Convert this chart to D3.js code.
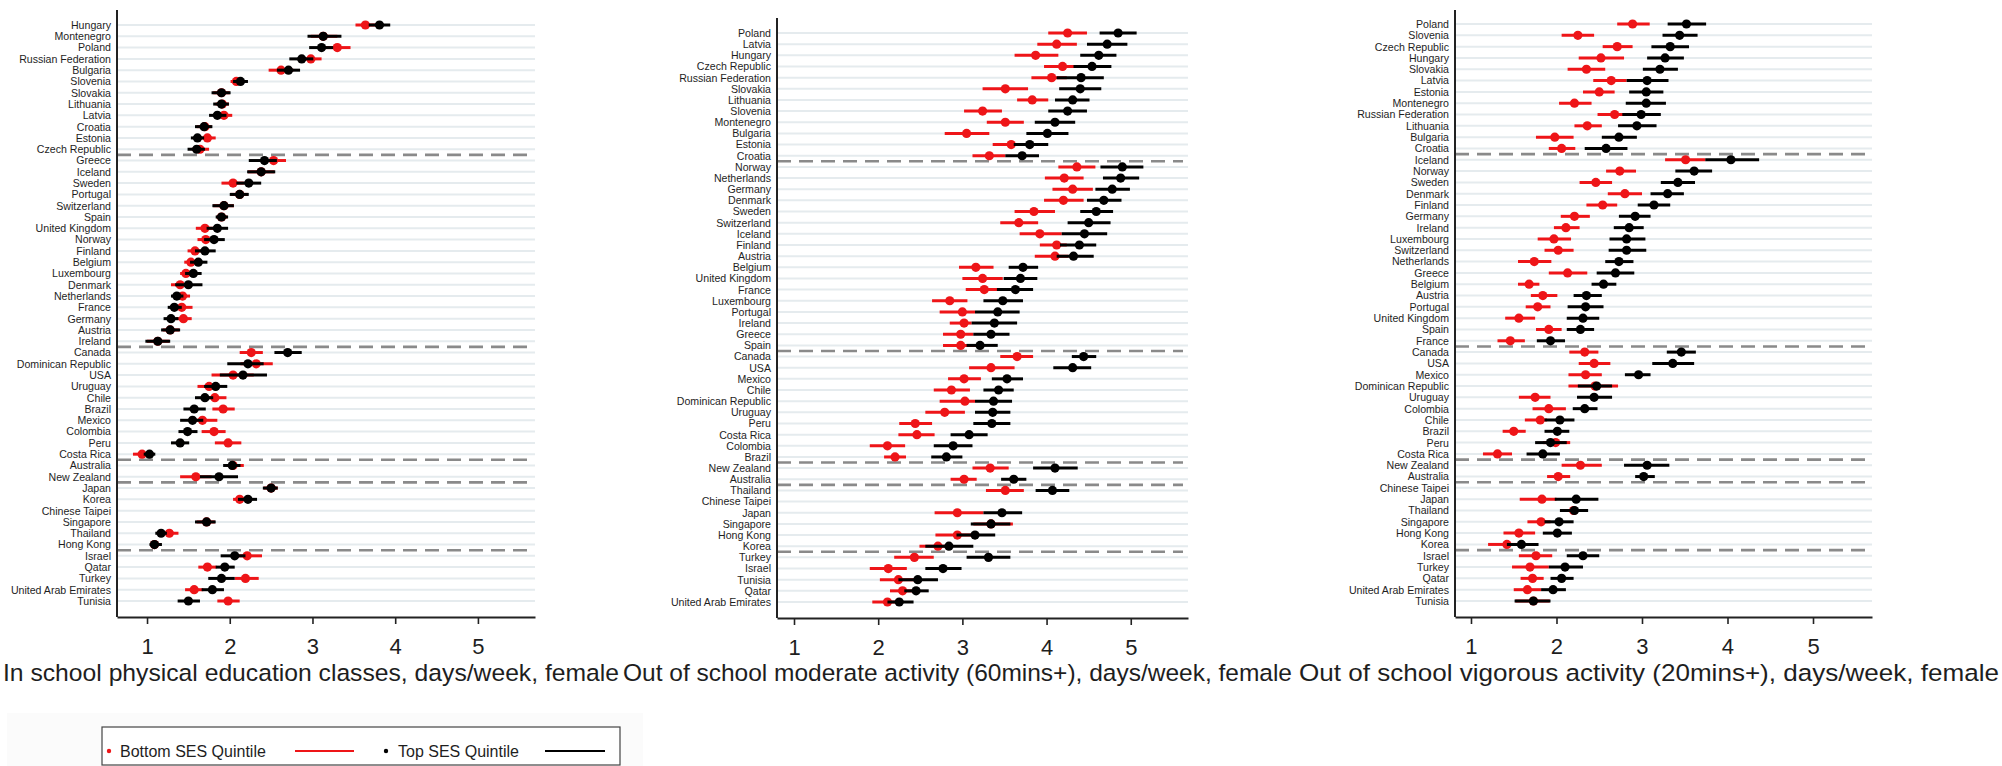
<!DOCTYPE html>
<html>
<head>
<meta charset="utf-8">
<script src="https://cdn.jsdelivr.net/npm/d3@7"></script>
<style>
  html, body { margin: 0; padding: 0; background: #fff; }
  svg { display: block; font-family: "Liberation Sans", Arial, sans-serif; }
</style>
</head>
<body>
<svg id="chart" width="2002" height="766"></svg>
<script>
// ---------- Data ----------
// Country groups (in display order) are separated by dashed lines.
const groupSizes = [12, 17, 10, 2, 6, 5];
const xTicks = [1, 2, 3, 4, 5];
const titles = [
  "In school physical education classes, days/week, female",
  "Out of school moderate activity (60mins+), days/week, female",
  "Out of school vigorous activity (20mins+), days/week, female"
];
const legendLabels = ["Bottom SES Quintile", "Top SES Quintile"];

// Panel 1: physical education classes
const peCountries = ["Hungary","Montenegro","Poland","Russian Federation","Bulgaria","Slovenia","Slovakia","Lithuania","Latvia","Croatia","Estonia","Czech Republic",
  "Greece","Iceland","Sweden","Portugal","Switzerland","Spain","United Kingdom","Norway","Finland","Belgium","Luxembourg","Denmark","Netherlands","France","Germany","Austria","Ireland",
  "Canada","Dominican Republic","USA","Uruguay","Chile","Brazil","Mexico","Colombia","Peru","Costa Rica",
  "Australia","New Zealand",
  "Japan","Korea","Chinese Taipei","Singapore","Thailand","Hong Kong",
  "Israel","Qatar","Turkey","United Arab Emirates","Tunisia"];
const peBottom   = [3.64,3.13,3.30,2.98,2.62,2.08,1.90,1.91,1.93,1.70,1.73,1.64, 2.53,2.38,2.04,2.12,1.93,1.90,1.70,1.71,1.58,1.53,1.47,1.40,1.43,1.42,1.44,1.28,1.13, 2.26,2.32,2.04,1.75,1.82,1.92,1.67,1.81,1.98,0.94, 2.04,1.59, 2.50,2.12,null,1.72,1.27,1.09, 2.21,1.73,2.19,1.57,1.98];
const peBottomLo = [3.52,2.98,3.15,2.85,2.47,2.01,1.80,1.83,1.82,1.60,1.63,1.54, 2.39,2.22,1.90,2.01,1.80,1.84,1.59,1.61,1.49,1.45,1.40,1.29,1.34,1.32,1.35,1.19,1.00, 2.12,2.13,1.78,1.61,1.69,1.79,1.54,1.66,1.82,0.83, 1.96,1.40, 2.41,2.04,null,1.60,1.20,1.04, 2.08,1.62,2.06,1.46,1.85];
const peBottomHi = [3.78,3.30,3.46,3.11,2.77,2.16,2.00,1.99,2.03,1.78,1.83,1.75, 2.68,2.54,2.17,2.22,2.05,1.97,1.80,1.82,1.66,1.62,1.54,1.50,1.52,1.55,1.54,1.39,1.27, 2.40,2.52,2.29,1.88,1.96,2.06,1.85,1.95,2.14,1.02, 2.17,1.78, 2.58,2.19,null,1.82,1.38,1.17, 2.39,1.84,2.35,1.68,2.12];
const peTop      = [3.81,3.13,3.11,2.87,2.71,2.13,1.90,1.90,1.85,1.69,1.61,1.60, 2.42,2.38,2.23,2.12,1.93,1.90,1.85,1.81,1.70,1.62,1.56,1.50,1.36,1.33,1.29,1.28,1.13, 2.70,2.22,2.16,1.83,1.70,1.57,1.55,1.49,1.40,1.03, 2.03,1.87, 2.50,2.22,null,1.72,1.17,1.09, 2.06,1.94,1.90,1.79,1.50];
const peTopLo    = [3.68,2.94,2.96,2.72,2.57,2.04,1.78,1.80,1.75,1.58,1.53,1.49, 2.23,2.21,2.08,2.00,1.79,1.83,1.72,1.69,1.58,1.52,1.46,1.34,1.29,1.25,1.20,1.17,0.98, 2.54,1.97,1.88,1.69,1.58,1.44,1.40,1.38,1.29,0.96, 1.92,1.64, 2.40,2.10,null,1.58,1.10,1.03, 1.89,1.83,1.74,1.66,1.37];
const peTopHi    = [3.94,3.35,3.25,3.01,2.85,2.22,2.01,1.99,1.96,1.79,1.69,1.70, 2.57,2.55,2.38,2.23,2.05,1.98,1.98,1.94,1.83,1.73,1.66,1.67,1.44,1.42,1.38,1.40,1.28, 2.87,2.41,2.45,1.97,1.80,1.71,1.68,1.61,1.51,1.10, 2.13,2.10, 2.58,2.33,null,1.83,1.24,1.18, 2.19,2.06,2.06,1.93,1.64];

// Panel 2: moderate activity
const modCountries = ["Poland","Latvia","Hungary","Czech Republic","Russian Federation","Slovakia","Lithuania","Slovenia","Montenegro","Bulgaria","Estonia","Croatia",
  "Norway","Netherlands","Germany","Denmark","Sweden","Switzerland","Iceland","Finland","Austria","Belgium","United Kingdom","France","Luxembourg","Portugal","Ireland","Greece","Spain",
  "Canada","USA","Mexico","Chile","Dominican Republic","Uruguay","Peru","Costa Rica","Colombia","Brazil",
  "New Zealand","Australia",
  "Thailand","Chinese Taipei","Japan","Singapore","Hong Kong","Korea",
  "Turkey","Israel","Tunisia","Qatar","United Arab Emirates"];
const modBottom   = [4.25,4.12,3.87,4.19,4.06,3.51,3.83,3.24,3.51,3.05,3.58,3.32, 4.36,4.21,4.31,4.20,3.85,3.67,3.92,4.12,4.10,3.16,3.24,3.26,2.85,3.00,3.02,2.98,2.98, 3.65,3.34,3.02,2.87,3.03,2.79,2.44,2.46,2.11,2.20, 3.33,3.02, 3.51,null,2.94,3.34,2.94,2.71, 2.43,2.12,2.24,2.29,2.11];
const modBottomLo = [4.02,3.89,3.62,3.97,3.82,3.24,3.65,3.02,3.29,2.79,3.36,3.12, 4.14,3.98,4.07,3.97,3.62,3.45,3.68,3.92,3.86,2.96,3.00,3.04,2.64,2.73,2.85,2.77,2.77, 3.45,3.08,2.83,2.66,2.73,2.56,2.25,2.24,1.90,2.07, 3.12,2.86, 3.28,null,2.67,3.13,2.68,2.49, 2.19,1.90,2.02,2.14,1.93];
const modBottomHi = [4.48,4.36,4.14,4.38,4.24,3.78,4.02,3.47,3.73,3.32,3.76,3.51, 4.58,4.44,4.55,4.44,4.10,3.90,4.18,4.24,4.26,3.37,3.48,3.43,3.06,3.15,3.11,3.13,3.17, 3.84,3.62,3.22,3.09,3.15,3.03,2.64,2.67,2.32,2.33, 3.55,3.17, 3.73,null,3.25,3.60,3.13,2.81, 2.66,2.34,2.44,2.40,2.22];
const modTop      = [4.85,4.72,4.62,4.54,4.41,4.40,4.31,4.25,4.10,4.01,3.80,3.71, 4.90,4.88,4.78,4.68,4.59,4.50,4.45,4.39,4.32,3.72,3.69,3.63,3.48,3.42,3.38,3.34,3.21, 4.44,4.31,3.53,3.43,3.37,3.36,3.35,3.08,2.89,2.81, 4.10,3.61, 4.07,null,3.47,3.34,3.15,2.84, 3.31,2.77,2.47,2.45,2.25];
const modTopLo    = [4.63,4.48,4.40,4.32,4.12,4.15,4.10,4.02,3.86,3.76,3.61,3.51, 4.64,4.67,4.58,4.48,4.40,4.25,4.18,4.16,4.12,3.55,3.49,3.41,3.25,3.15,3.11,3.13,3.05, 4.30,4.08,3.35,3.25,3.15,3.15,3.13,2.86,2.66,2.63, 3.84,3.46, 3.87,null,3.25,3.10,2.93,2.56, 3.05,2.56,2.24,2.31,2.11];
const modTopHi    = [5.07,4.96,4.83,4.77,4.68,4.65,4.51,4.48,4.34,4.26,4.02,3.91, 5.15,5.10,4.99,4.89,4.79,4.76,4.72,4.59,4.56,3.90,3.89,3.84,3.72,3.68,3.65,3.56,3.42, 4.59,4.53,3.72,3.61,3.59,3.57,3.57,3.30,3.12,3.00, 4.37,3.76, 4.27,null,3.71,3.57,3.39,3.13, 3.57,2.99,2.71,2.60,2.42];

// Panel 3: vigorous activity
const vigCountries = ["Poland","Slovenia","Czech Republic","Hungary","Slovakia","Latvia","Estonia","Montenegro","Russian Federation","Lithuania","Bulgaria","Croatia",
  "Iceland","Norway","Sweden","Denmark","Finland","Germany","Ireland","Luxembourg","Switzerland","Netherlands","Greece","Belgium","Austria","Portugal","United Kingdom","Spain","France",
  "Canada","USA","Mexico","Dominican Republic","Uruguay","Colombia","Chile","Brazil","Peru","Costa Rica",
  "New Zealand","Australia",
  "Chinese Taipei","Japan","Thailand","Singapore","Hong Kong","Korea",
  "Israel","Turkey","Qatar","United Arab Emirates","Tunisia"];
const vigBottom   = [2.89,2.25,2.71,2.52,2.35,2.64,2.50,2.21,2.68,2.36,1.98,2.06, 3.51,2.74,2.46,2.80,2.54,2.21,2.11,1.97,2.02,1.74,2.13,1.68,1.84,1.78,1.56,1.91,1.46, 2.33,2.44,2.34,2.45,1.75,1.91,1.81,1.50,1.99,1.31, 2.28,2.02, null,1.83,2.20,1.82,1.56,1.42, 1.76,1.69,1.72,1.66,1.73];
const vigBottomLo = [2.71,2.06,2.54,2.26,2.13,2.43,2.31,2.03,2.48,2.21,1.76,1.91, 3.27,2.58,2.27,2.60,2.35,2.05,1.97,1.78,1.86,1.55,1.91,1.55,1.70,1.64,1.40,1.76,1.31, 2.15,2.26,2.14,2.14,1.56,1.72,1.63,1.37,1.84,1.14, 2.06,1.89, null,1.57,2.06,1.66,1.38,1.20, 1.56,1.48,1.58,1.50,1.52];
const vigBottomHi = [3.09,2.44,2.89,2.79,2.57,2.82,2.68,2.41,2.79,2.53,2.20,2.22, 3.74,2.93,2.65,3.00,2.71,2.39,2.27,2.17,2.20,1.94,2.36,1.80,2.01,1.93,1.75,2.06,1.63, 2.49,2.63,2.53,2.72,1.93,2.11,1.89,1.64,2.16,1.48, 2.53,2.16, null,2.00,2.35,1.93,1.75,1.54, 1.95,1.91,1.85,1.82,1.92];
const vigTop      = [3.52,3.44,3.33,3.27,3.21,3.06,3.05,3.05,2.99,2.94,2.73,2.58, 4.04,3.61,3.42,3.30,3.14,2.92,2.85,2.82,2.82,2.73,2.69,2.55,2.35,2.34,2.31,2.28,1.93, 3.46,3.36,2.96,2.47,2.44,2.33,2.04,2.01,1.93,1.84, 3.06,3.02, null,2.23,2.21,2.03,2.01,1.59, 2.31,2.10,2.06,1.96,1.73];
const vigTopLo    = [3.30,3.24,3.11,3.06,3.01,2.82,2.85,2.81,2.77,2.72,2.53,2.33, 3.74,3.39,3.22,3.10,2.95,2.73,2.67,2.62,2.61,2.57,2.47,2.41,2.20,2.13,2.12,2.12,1.77, 3.29,3.12,2.80,2.25,2.24,2.19,1.86,1.86,1.75,1.65, 2.79,2.92, null,1.98,2.04,1.86,1.84,1.42, 2.12,1.91,1.93,1.82,1.51];
const vigTopHi    = [3.75,3.65,3.55,3.49,3.42,3.31,3.25,3.28,3.22,3.17,2.94,2.83, 4.37,3.82,3.62,3.49,3.33,3.10,3.02,3.04,3.05,2.90,2.91,2.70,2.53,2.55,2.50,2.44,2.10, 3.63,3.61,3.10,2.65,2.65,2.48,2.21,2.15,2.12,2.04, 3.32,3.15, null,2.49,2.37,2.20,2.18,1.79, 2.50,2.31,2.20,2.11,1.93];

// ---------- Layout ----------
const W = 2002, H = 766;
const RED = "#ee1518", BLACK = "#000000";
const layout = [
  { left: 117,  right: 535,  xMin: 0.637, xMax: 5.69, axisTop: 10, axisBottom: 617, rowTop: 25, rowBottom: 601, titleX0: 3,    titleX1: 619 },
  { left: 777,  right: 1188, xMin: 0.798, xMax: 5.68, axisTop: 18, axisBottom: 618, rowTop: 33, rowBottom: 602, titleX0: 623,  titleX1: 1292 },
  { left: 1455, right: 1872, xMin: 0.813, xMax: 5.69, axisTop: 10, axisBottom: 617, rowTop: 24, rowBottom: 601, titleX0: 1299, titleX1: 1999 }
];

const panels = [
  { title: titles[0], countries: peCountries,  bEst: peBottom,  bLo: peBottomLo,  bHi: peBottomHi,  tEst: peTop,  tLo: peTopLo,  tHi: peTopHi },
  { title: titles[1], countries: modCountries, bEst: modBottom, bLo: modBottomLo, bHi: modBottomHi, tEst: modTop, tLo: modTopLo, tHi: modTopHi },
  { title: titles[2], countries: vigCountries, bEst: vigBottom, bLo: vigBottomLo, bHi: vigBottomHi, tEst: vigTop, tLo: vigTopLo, tHi: vigTopHi }
];

const svg = d3.select("#chart");
svg.append("rect").attr("width", W).attr("height", H).attr("fill", "#fff");

panels.forEach((P, pi) => {
  const L = layout[pi];
  const g = svg.append("g").attr("class", "panel");
  const x = d3.scaleLinear().domain([L.xMin, L.xMax]).range([L.left, L.right]);
  const y = d3.scalePoint().domain(P.countries).range([L.rowTop, L.rowBottom]);

  // horizontal row gridlines
  g.append("g").selectAll("line").data(P.countries).join("line")
    .attr("x1", L.left).attr("x2", L.right)
    .attr("y1", d => y(d)).attr("y2", d => y(d))
    .attr("stroke", "#e5ebee").attr("stroke-width", 2);

  // dashed separators between country groups
  const seps = [];
  let cum = 0;
  groupSizes.slice(0, -1).forEach(n => {
    cum += n;
    seps.push((y(P.countries[cum - 1]) + y(P.countries[cum])) / 2);
  });
  g.append("g").selectAll("line").data(seps).join("line")
    .attr("x1", L.left).attr("x2", L.right - 5)
    .attr("y1", d => d).attr("y2", d => d)
    .attr("stroke", "#8a8a8a").attr("stroke-width", 2.6)
    .attr("stroke-dasharray", "14,8");

  // rows with estimates
  const rows = P.countries.map((c, i) => ({
    c, bE: P.bEst[i], bL: P.bLo[i], bH: P.bHi[i], tE: P.tEst[i], tL: P.tLo[i], tH: P.tHi[i]
  }));
  const bRows = rows.filter(r => r.bE != null);
  const tRows = rows.filter(r => r.tE != null);

  // bottom quintile: point then interval
  g.append("g").selectAll("circle").data(bRows).join("circle")
    .attr("cx", d => x(d.bE)).attr("cy", d => y(d.c)).attr("r", 4.6).attr("fill", RED);
  g.append("g").selectAll("line").data(bRows).join("line")
    .attr("x1", d => x(d.bL)).attr("x2", d => x(d.bH))
    .attr("y1", d => y(d.c)).attr("y2", d => y(d.c))
    .attr("stroke", RED).attr("stroke-width", 3);
  // top quintile: point then interval
  g.append("g").selectAll("circle").data(tRows).join("circle")
    .attr("cx", d => x(d.tE)).attr("cy", d => y(d.c)).attr("r", 4.6).attr("fill", BLACK);
  g.append("g").selectAll("line").data(tRows).join("line")
    .attr("x1", d => x(d.tL)).attr("x2", d => x(d.tH))
    .attr("y1", d => y(d.c)).attr("y2", d => y(d.c))
    .attr("stroke", BLACK).attr("stroke-width", 3);

  // country labels
  const yAxis = g.append("g").attr("transform", `translate(${L.left},0)`)
    .call(d3.axisLeft(y).tickSize(0).tickPadding(6));
  yAxis.select(".domain").remove();
  yAxis.selectAll("text").attr("font-size", 10.6).attr("fill", "#1e1e1e")
    .attr("font-family", '"Liberation Sans", Arial, sans-serif');

  // left axis line
  g.append("line").attr("x1", L.left).attr("x2", L.left)
    .attr("y1", L.axisTop).attr("y2", L.axisBottom)
    .attr("stroke", "#222").attr("stroke-width", 2);

  // x axis
  const xAxis = g.append("g").attr("transform", `translate(0,${L.axisBottom})`)
    .call(d3.axisBottom(x).tickValues(xTicks).tickSize(7).tickSizeOuter(0).tickPadding(14).tickFormat(d3.format("d")));
  xAxis.select(".domain").attr("stroke", "#222").attr("stroke-width", 2);
  xAxis.selectAll(".tick line").attr("stroke", "#222").attr("stroke-width", 1.6);
  xAxis.selectAll("text").attr("font-size", 22).attr("fill", "#1e1e1e")
    .attr("font-family", '"Liberation Sans", Arial, sans-serif');

  // panel title
  g.append("text").attr("x", L.titleX0).attr("y", 681)
    .attr("font-size", 24.5).attr("fill", "#1e1e1e")
    .attr("textLength", L.titleX1 - L.titleX0).attr("lengthAdjust", "spacingAndGlyphs")
    .text(P.title);
});

// ---------- Legend ----------
const lg = svg.append("g").attr("class", "legend");
lg.append("rect").attr("x", 7).attr("y", 713).attr("width", 636).attr("height", 60).attr("fill", "#fbfbfb");
lg.append("rect").attr("x", 102).attr("y", 727).attr("width", 518).attr("height", 38)
  .attr("fill", "#fff").attr("stroke", "#444").attr("stroke-width", 1.2);
const legendItems = [
  { label: legendLabels[0], color: RED,   dotX: 109, textX: 120, lineX0: 295, lineX1: 354 },
  { label: legendLabels[1], color: BLACK, dotX: 386, textX: 398, lineX0: 545, lineX1: 605 }
];
legendItems.forEach(it => {
  lg.append("circle").attr("cx", it.dotX).attr("cy", 751).attr("r", 2.2).attr("fill", it.color);
  lg.append("text").attr("x", it.textX).attr("y", 757).attr("font-size", 16).attr("fill", "#1e1e1e").text(it.label);
  lg.append("line").attr("x1", it.lineX0).attr("x2", it.lineX1).attr("y1", 751).attr("y2", 751)
    .attr("stroke", it.color).attr("stroke-width", 2.2);
});
</script>
</body>
</html>
